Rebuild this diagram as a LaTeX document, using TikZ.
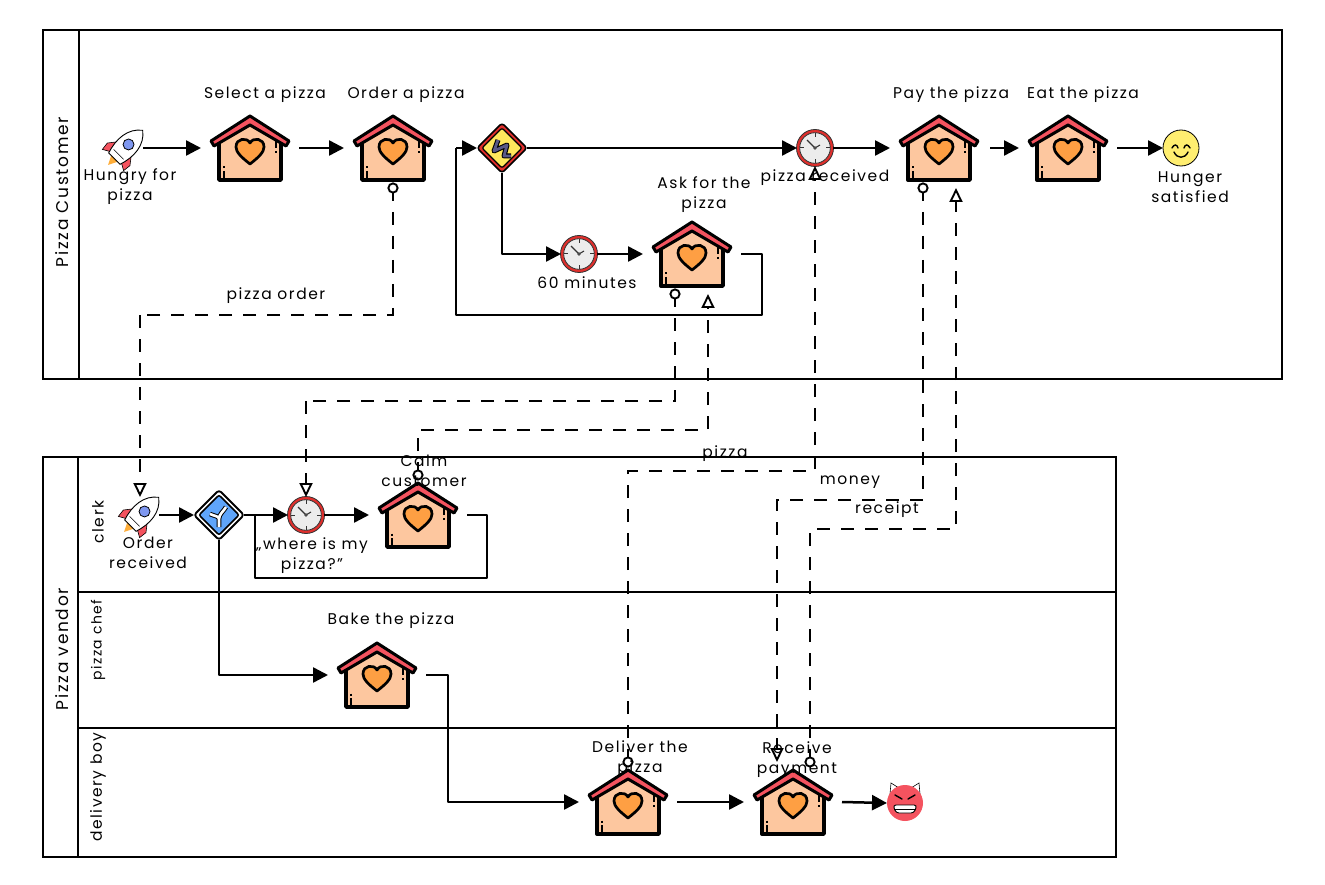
\documentclass[tikz,border=0pt]{standalone}
\usepackage{fontspec}
\setmainfont[LetterSpace=10]{Poppins}
\usetikzlibrary{arrows.meta,calc}
\definecolor{roofred}{HTML}{F4535F}
\definecolor{wallpeach}{HTML}{FDC79F}
\definecolor{heartor}{HTML}{FE9F43}
\definecolor{inkk}{HTML}{000000}
\definecolor{clockface}{HTML}{ECECEC}
\definecolor{ringred}{HTML}{E02F2C}
\definecolor{signyel}{HTML}{FFE85C}
\definecolor{signblue}{HTML}{5FA5FA}
\definecolor{smiley}{HTML}{FFEE70}
\definecolor{windowb}{HTML}{7E97F0}
\tikzset{
  x=1pt,y=-1pt,
  line/.style={draw=inkk,line width=2.5pt,line join=round},
  seqflow/.style={line,-{Triangle[length=15pt,width=15pt,fill=inkk]}},
  seqplain/.style={line},
  msgflow/.style={draw=inkk,line width=1.9pt,dash pattern=on 13pt off 11pt},
  msgarrow/.style={msgflow,-{Triangle[open,length=14pt,width=13pt,fill=white,line width=1.9pt]}},
  msgdot/.style={draw=inkk,line width=1.9pt,fill=white},
  frame/.style={draw=inkk,line width=2.6pt},
  taskbox/.style={rectangle,minimum width=98pt,minimum height=80pt,inner sep=0pt,outer sep=0pt},
  iconbox/.style={rectangle,minimum size=36pt,inner sep=0pt,outer sep=0pt},
  gatebox/.style={rectangle,minimum size=50pt,inner sep=0pt,outer sep=0pt},
  lbl/.style={font=\fontsize{15.5}{20}\selectfont,text=inkk,align=center,inner sep=0pt},
  vlbl/.style={lbl,rotate=90},
  plbl/.style={lbl,rotate=90,font=\fontsize{17}{20}\selectfont},
  house/.pic={
    \fill[wallpeach] (-32,-11)--(0,-24)--(32,-11)--(32,32)--(-32,32)--cycle;
    \draw[line,line width=3.4pt] (-31,-10)--(-31,32)--(31,32)--(31,-10);
    \draw[line,line width=3pt,fill=roofred] (0,-32)--(39,-7)--(36,-2)--(0,-23)--(-36,-2)--(-39,-7)--cycle;
    \draw[line,line width=2.7pt,fill=heartor] (0,16) .. controls (-9,9) and (-14,4) .. (-14,-1) .. controls (-14,-10) and (-3,-11) .. (0,-5) .. controls (3,-11) and (14,-10) .. (14,-1) .. controls (14,4) and (9,9) .. (0,16) -- cycle;
    \draw[line,line width=2.6pt] (-26,23)--(-26,32) (-26,18.5)--(-26,20.5) (26,-9)--(26,0) (26,3)--(26,5);
  },
  rocket/.pic={
    \begin{scope}[rotate=-45]
    \fill[heartor!85!yellow] (-5,14)--(5,14)--(0,24)--cycle;
    \draw[draw=inkk,line width=.6pt,fill=roofred] (-9,0)--(-16,9)--(-15,17)--(-8,13)--cycle;
    \draw[draw=inkk,line width=.6pt,fill=roofred] (9,0)--(16,9)--(15,17)--(8,13)--cycle;
    \draw[draw=inkk,line width=.9pt,fill=white] (0,-25) .. controls (12,-16) and (13,0) .. (8,15) -- (-8,15) .. controls (-13,0) and (-12,-16) .. (0,-25) -- cycle;
    \draw[draw=inkk,line width=.8pt,fill=windowb] (0,-5) circle (5.5);
    \draw[draw=inkk,line width=.6pt] (-7,9)--(7,9);
    \end{scope}
  },
  clock/.pic={
    \draw[draw=inkk!80,line width=.8pt,fill=ringred] (0,0) circle (18.5);
    \draw[draw=inkk!80,line width=.8pt,fill=clockface] (0,0) circle (15.3);
    \draw[draw=inkk!80,line width=1pt] (0,-15)--(0,-11) (0,15)--(0,11) (-15,0)--(-11,0) (15,0)--(11,0);
    \draw[draw=inkk!80,line width=1.1pt] (-8,-8)--(0,0)--(5,-3);
    \fill[inkk!70] (0,0) circle (1.8);
  },
  signbase/.style={line join=round},
  gateway yellow/.pic={
    \draw[signbase,draw=inkk,line width=1.6pt,fill=ringred,rounded corners=3pt] (0,-25)--(25,0)--(0,25)--(-25,0)--cycle;
    \draw[signbase,draw=inkk,line width=1.2pt,fill=signyel,rounded corners=2pt] (0,-20)--(20,0)--(0,20)--(-20,0)--cycle;
    \draw[signbase,draw=inkk,line width=5pt] (-4,-8)--(-8,3)--(5,-3)--(2,8)--(9,8);
    \draw[signbase,draw=black!40!blue!30!gray,line width=2.8pt] (-4,-8)--(-8,3)--(5,-3)--(2,8)--(9,8);
  },
  gateway blue/.pic={
    \draw[signbase,draw=inkk,line width=1.8pt,fill=white,rounded corners=3pt] (0,-25)--(25,0)--(0,25)--(-25,0)--cycle;
    \draw[signbase,draw=inkk,line width=1.5pt,fill=signblue,rounded corners=2pt] (0,-20)--(20,0)--(0,20)--(-20,0)--cycle;
    \draw[signbase,draw=inkk,line width=4.6pt] (0,12)--(0,4) .. controls (0,1) and (-5,1) .. (-9,-1) (0,4) .. controls (0,-1) and (5,-4) .. (7,-8);
    \draw[signbase,draw=white,line width=2.6pt] (0,12)--(0,4) .. controls (0,1) and (-5,1) .. (-9,-1) (0,4) .. controls (0,-1) and (5,-4) .. (7,-8);
  },
  happy/.pic={
    \draw[draw=inkk,line width=.8pt,fill=smiley] (0,0) circle (18);
    \draw[draw=inkk,line width=1.4pt,line cap=round] (-9,0) .. controls (-7,-4) and (-4,-4) .. (-3,0) (3,0) .. controls (4,-4) and (7,-4) .. (9,0) (-7,4) .. controls (-4,11) and (4,11) .. (7,4);
  },
  devil/.pic={
    \draw[draw=inkk,line width=.6pt,fill=white] (-15,-9)--(-14,-20)--(-6,-15)--cycle (15,-9)--(14,-20)--(6,-15)--cycle;
    \fill[roofred] (0,0) circle (18);
    \draw[draw=inkk,line width=1.4pt,line cap=round] (-10,-8)--(-3,-4) (10,-8)--(3,-4);
    \draw[draw=inkk,line width=.9pt,fill=white,rounded corners=3pt] (-12,2)--(12,2)--(9,10)--(-9,10)--cycle;
    \draw[draw=inkk,line width=.7pt] (-11,6)--(11,6);
  },
}
\begin{document}
\begin{tikzpicture}
\useasboundingbox (0,0) rectangle (1325,885);
% pools and lanes
\draw[frame] (43,30) rectangle (1282,379);
\draw[frame] (79,30) -- (79,379);
\draw[frame] (43,457) rectangle (1116,857);
\draw[frame] (78,457) -- (78,857);
\draw[frame] (78,592) -- (1116,592);
\draw[frame] (78,728) -- (1116,728);
% nodes
\node[iconbox] (start1) at (125,148) {};
\node[taskbox] (select) at (250,148) {};
\node[taskbox] (order) at (393,148) {};
\node[gatebox] (gate1) at (502,148) {};
\node[iconbox] (clock1) at (815,148) {};
\node[taskbox] (pay) at (939,148) {};
\node[taskbox] (eat) at (1068,148) {};
\node[iconbox] (end1) at (1181,148) {};
\node[iconbox] (clock2) at (579,254) {};
\node[taskbox] (ask) at (692,254) {};
\node[iconbox] (start2) at (141,515) {};
\node[gatebox] (gate2) at (219,515) {};
\node[iconbox] (clock3) at (306,515) {};
\node[taskbox] (calm) at (418,515) {};
\node[taskbox] (bake) at (377,675) {};
\node[taskbox] (deliver) at (628,802) {};
\node[taskbox] (receive) at (793,802) {};
\node[iconbox] (end2) at (905,803) {};
\coordinate (loopA) at (456,148);
\coordinate (loopB) at (255,515);
% icons
\foreach \n in {select,order,pay,eat,ask,calm,bake,deliver,receive} \pic at (\n) {house};
\pic at (start1) {rocket};
\pic at (start2) {rocket};
\pic at (clock1) {clock};
\pic at (clock2) {clock};
\pic at (clock3) {clock};
\pic at (gate1) {gateway yellow};
\pic at (gate2) {gateway blue};
\pic at (end1) {happy};
\pic at (end2) {devil};
% sequence flows
\draw[seqflow] (start1.east) -- (select.west);
\draw[seqflow] (select.east) -- (order.west);
\draw[seqflow] (loopA) -- (gate1.west);
\draw[seqflow] (gate1.east) -- (clock1.west);
\draw[seqflow] (clock1.east) -- (pay.west);
\draw[seqflow] ([xshift=2pt]pay.east) -- (eat.west);
\draw[seqflow] (eat.east) -- (end1.west);
\draw[seqflow] (gate1.south) |- (clock2.west);
\draw[seqflow] (clock2.east) -- (ask.west);
\draw[seqplain] (ask.east) -| ++(21,61) -| (loopA);
\draw[seqflow] (start2.east) -- (gate2.west);
\draw[seqflow] (gate2.east) -- (clock3.west);
\draw[seqflow] (clock3.east) -- (calm.west);
\draw[seqplain] (calm.east) -| ++(20,63) -| (loopB);
\draw[seqflow] (gate2.south) |- (bake.west);
\draw[seqflow] (bake.east) -| ++(22,127) |- (deliver.west);
\draw[seqflow] (deliver.east) -- (receive.west);
\draw[seqflow] (receive.east) -- (end2.west);
% message flows
\coordinate (m1) at (140,315);
\draw[msgflow] (order.south) |- (m1);
\draw[msgarrow] (m1) -- (start2.north -| m1);
\coordinate (m2) at (306,401);
\draw[msgflow] ([xshift=-17pt]ask.south) |- (m2);
\draw[msgarrow] (m2) -- (clock3.north);
\draw[msgarrow] ([xshift=0pt]calm.north) |- (708,430) -- ([xshift=16pt]ask.south);
\draw[msgarrow] (deliver.north) |- (815,471) -- (clock1.south);
\draw[msgarrow] ([xshift=-16pt]pay.south) |- (777,500) -- ([xshift=-16pt]receive.north);
\draw[msgarrow] ([xshift=17pt]receive.north) |- (956,529) -- ([xshift=17pt]pay.south);
\draw[msgdot] (order.south) ++(0,0) circle (4.6);
\draw[msgdot] (ask.south) ++(-17,0) circle (4.6);
\draw[msgdot] (calm.north) circle (4.6);
\draw[msgdot] (deliver.north) circle (4.6);
\draw[msgdot] (receive.north) ++(17,0) circle (4.6);
\draw[msgdot] (pay.south) ++(-16,0) circle (4.6);
% labels
\node[plbl] (lp1) at (62,192) {Pizza Customer};
\node[plbl] (lp2) at (62,649) {Pizza vendor};
\node[vlbl] (ll1) at (98,522) {clerk};
\node[vlbl,font=\fontsize{14}{20}\selectfont] (ll2) at (98,640) {pizza chef};
\node[vlbl] (ll3) at (98,787) {delivery boy};
\node[lbl] (t1) at (265,95) {Select a pizza};
\node[lbl] (t2) at (406,95) {Order a pizza};
\node[lbl] (t3) at (130,187) {Hungry for\\pizza};
\node[lbl] (t4) at (704,195) {Ask for the\\pizza};
\node[lbl] (t5) at (825,178) {pizza received};
\node[lbl] (t6) at (587,283) {60 minutes};
\node[lbl] (t7) at (951,95) {Pay the pizza};
\node[lbl] (t8) at (1083,95) {Eat the pizza};
\node[lbl] (t9) at (1190,187) {Hunger\\satisfied};
\node[lbl] (t10) at (148,553) {Order\\received};
\node[lbl] (t11) at (312,556) {„where is my\\pizza?"};
\node[lbl] (t12) at (424,471) {Calm\\customer};
\node[lbl] (t13) at (391,621) {Bake the pizza};
\node[lbl] (t14) at (640,759) {Deliver the\\pizza};
\node[lbl] (t15) at (797,760) {Receive\\payment};
\node[lbl] (f1) at (276,296) {pizza order};
\node[lbl] (f2) at (725,454) {pizza};
\node[lbl] (f3) at (850,482) {money};
\node[lbl] (f4) at (887,510) {receipt};
\end{tikzpicture}
\end{document}
